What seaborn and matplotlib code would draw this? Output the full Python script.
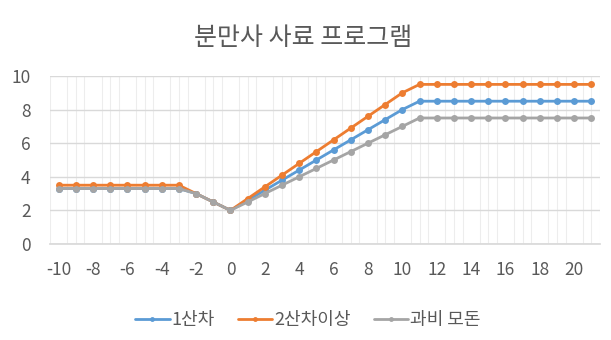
import matplotlib
matplotlib.use("Agg")
import matplotlib.pyplot as plt
import seaborn as sns
import pandas as pd
import numpy as np
from matplotlib.ticker import MultipleLocator

days = list(range(-10, 22))
s1 = [3.3]*8 + [3.0, 2.5, 2.0, 2.6, 3.2, 3.8, 4.4, 5.0, 5.6, 6.2, 6.8, 7.4, 8.0] + [8.5]*11
s2 = [3.5]*8 + [3.0, 2.5, 2.0, 2.7, 3.4, 4.1, 4.8, 5.5, 6.2, 6.9, 7.6, 8.3, 9.0] + [9.5]*11
s3 = [3.3]*8 + [3.0, 2.5, 2.0, 2.5, 3.0, 3.5, 4.0, 4.5, 5.0, 5.5, 6.0, 6.5, 7.0] + [7.5]*11
names = ["1산차", "2산차이상", "과비 모돈"]
colors = ["#5B9BD5", "#ED7D31", "#A5A5A5"]

df = pd.concat([
    pd.DataFrame({"day": days, "value": s, "series": n})
    for s, n in zip([s1, s2, s3], names)
])

sns.set_theme(style="white")
plt.rcParams['font.family'] = ['Noto Sans CJK KR', 'DejaVu Sans']
plt.rcParams['axes.unicode_minus'] = False

fig = plt.figure(figsize=(6.11, 3.40), dpi=100)
ax = fig.add_axes([50/611, 1-244/340, 550/611, 168/340])

sns.lineplot(data=df, x="day", y="value", hue="series", hue_order=names,
             palette=colors, marker="o", markersize=5, markeredgewidth=0,
             linewidth=2.0, ax=ax, legend=True, zorder=3)

ax.set_xlim(-10.5, 21.5)
ax.set_ylim(0, 10)
ax.xaxis.set_major_locator(MultipleLocator(2))
ax.xaxis.set_minor_locator(MultipleLocator(0.5))
ax.yaxis.set_major_locator(MultipleLocator(2))
ax.grid(which="major", axis="y", color="#D9D9D9", linewidth=1)
ax.grid(which="minor", axis="x", color="#EDEDED", linewidth=0.8)
ax.set_axisbelow(True)
for sp in ["top", "right", "left"]:
    ax.spines[sp].set_visible(False)
ax.spines["bottom"].set_color("#D9D9D9")
ax.tick_params(axis="both", which="both", length=0, labelsize=12.5, colors="#595959")
ax.tick_params(axis="x", pad=12)
ax.tick_params(axis="y", pad=14)
ax.set_xlabel("")
ax.set_ylabel("")

fig.text(303/611, 1-38/340, "분만사 사료 프로그램", ha="center", va="center",
         fontsize=18, color="#595959")

handles, labels = ax.get_legend_handles_labels()
for h in handles:
    h.set_markersize(3.5)
ax.legend(handles, labels, loc="center", bbox_to_anchor=(258/550, -(320-244)/168),
          ncol=3, frameon=False, fontsize=13, labelcolor="#595959",
          handlelength=1.9, handletextpad=0.1, columnspacing=1.3)

fig.savefig("out.png", dpi=100, facecolor="white")
